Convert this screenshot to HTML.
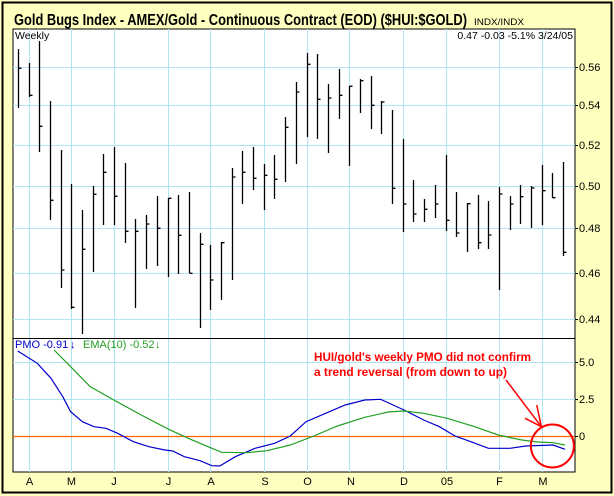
<!DOCTYPE html>
<html><head><meta charset="utf-8"><style>
html,body{margin:0;padding:0;background:#FFFFC0;}
svg{display:block;font-family:"Liberation Sans",Arial,sans-serif;}
</style></head><body>
<svg width="614" height="496" viewBox="0 0 614 496" xmlns="http://www.w3.org/2000/svg">
<rect x="0" y="0" width="614" height="496" fill="#FFFFC0"/>
<rect x="2.5" y="2.5" width="609" height="490" fill="none" stroke="#000" stroke-width="2"/>
<text x="14" y="25" font-size="16" font-weight="bold" textLength="453" lengthAdjust="spacingAndGlyphs">Gold Bugs Index - AMEX/Gold - Continuous Contract (EOD) ($HUI:$GOLD)</text>
<text x="474" y="25" font-size="9" textLength="50" lengthAdjust="spacingAndGlyphs">INDX/INDX</text>
<rect x="13" y="29" width="562" height="443" fill="#fff" stroke="#000" stroke-width="1"/>
<g stroke="#B0E4F2" stroke-width="1">
<line x1="29.5" y1="29" x2="29.5" y2="472"/><line x1="71.5" y1="29" x2="71.5" y2="472"/>
<line x1="114.5" y1="29" x2="114.5" y2="472"/><line x1="168.5" y1="29" x2="168.5" y2="472"/>
<line x1="210.5" y1="29" x2="210.5" y2="472"/><line x1="264.5" y1="29" x2="264.5" y2="472"/>
<line x1="307.5" y1="29" x2="307.5" y2="472"/><line x1="349.5" y1="29" x2="349.5" y2="472"/>
<line x1="403.5" y1="29" x2="403.5" y2="472"/><line x1="446.5" y1="29" x2="446.5" y2="472"/>
<line x1="499.5" y1="29" x2="499.5" y2="472"/><line x1="542.5" y1="29" x2="542.5" y2="472"/>
<line x1="13" y1="67.5" x2="575" y2="67.5"/><line x1="13" y1="105.5" x2="575" y2="105.5"/>
<line x1="13" y1="145.5" x2="575" y2="145.5"/><line x1="13" y1="186.5" x2="575" y2="186.5"/>
<line x1="13" y1="228.5" x2="575" y2="228.5"/><line x1="13" y1="273.5" x2="575" y2="273.5"/>
<line x1="13" y1="319.5" x2="575" y2="319.5"/>
<line x1="13" y1="362.5" x2="575" y2="362.5"/><line x1="13" y1="399.5" x2="575" y2="399.5"/>
</g>
<line x1="13" y1="338.5" x2="575" y2="338.5" stroke="#000" stroke-width="1"/>
<text x="15" y="39" font-size="10.5">Weekly</text>
<text x="573" y="39" font-size="10.5" text-anchor="end">0.47  -0.03  -5.1%  3/24/05</text>
<g font-size="11" fill="#000">
<text x="579" y="71">0.56</text><text x="579" y="109">0.54</text><text x="579" y="149">0.52</text>
<text x="579" y="190">0.50</text><text x="579" y="232">0.48</text><text x="579" y="277">0.46</text>
<text x="579" y="323">0.44</text>
<text x="579" y="366">5.0</text><text x="579" y="403">2.5</text><text x="579" y="440">0</text>
</g>
<g stroke="#000" stroke-width="1">
<line x1="575" y1="67.5" x2="578" y2="67.5"/><line x1="575" y1="105.5" x2="578" y2="105.5"/>
<line x1="575" y1="145.5" x2="578" y2="145.5"/><line x1="575" y1="186.5" x2="578" y2="186.5"/>
<line x1="575" y1="228.5" x2="578" y2="228.5"/><line x1="575" y1="273.5" x2="578" y2="273.5"/>
<line x1="575" y1="319.5" x2="578" y2="319.5"/><line x1="575" y1="362.5" x2="578" y2="362.5"/>
<line x1="575" y1="399.5" x2="578" y2="399.5"/><line x1="575" y1="436.5" x2="578" y2="436.5"/>
</g>
<g font-size="11" text-anchor="middle">
<text x="29.5" y="485">A</text><text x="71.5" y="485">M</text><text x="114" y="485">J</text>
<text x="168.5" y="485">J</text><text x="211" y="485">A</text><text x="265" y="485">S</text>
<text x="307.5" y="485">O</text><text x="351" y="485">N</text><text x="404" y="485">D</text>
<text x="447" y="485">05</text><text x="499.5" y="485">F</text><text x="543" y="485">M</text>
</g>
<g stroke="#000" stroke-width="1.3" fill="none">
<path d="M18.5 49V108M18.5 68.3h3
M29.5 63V97M29.5 95.3h3
M39.5 41V152M39.5 126.3h3
M50.5 101V220M50.5 200.3h3
M61.5 150V288M61.5 270h3
M71.5 184V309M71.5 307.3h3
M82.5 210V334M82.5 249.3h3
M93.5 186V272M93.5 194.3h3
M103.5 154V225M103.5 172.3h3
M114.5 147V225M114.5 196.3h3
M125.5 163V243M125.5 231.3h3
M135.5 219V308M135.5 231.3h3
M146.5 215V269M146.5 224h3
M157.5 196V266M157.5 228.3h3
M168.5 198V277M168.5 198.3h3
M178.5 195V274M178.5 235.3h3
M189.5 192V273M189.5 273.3h3
M200.5 233V328M200.5 244.3h3
M210.5 245V310M210.5 280h3
M221.5 242V300M221.5 242.7h3
M232.5 168V280M232.5 177h3
M242.5 151V204M242.5 172.3h3
M253.5 147V190M253.5 178.3h3
M264.5 164V210M264.5 175.3h3
M274.5 155V199M274.5 179.3h3
M285.5 117V182M285.5 127.3h3
M296.5 82V164M296.5 92h3
M307.5 53V137M307.5 64.3h3
M317.5 54V139M317.5 99.3h3
M328.5 84V153M328.5 98h3
M339.5 69V119M339.5 95.3h3
M349.5 86V166M349.5 86.3h3
M360.5 79V113M360.5 80.7h3
M371.5 76V129M371.5 105.3h3
M381.5 101V134M381.5 102h3
M392.5 110V204M392.5 188.3h3
M403.5 139V232M403.5 204h3
M413.5 180V222M413.5 214h3
M424.5 199V222M424.5 209.3h3
M435.5 185V218M435.5 204h3
M446.5 155V231M446.5 220.3h3
M456.5 192V237M456.5 233h3
M467.5 203V252M467.5 203.7h3
M478.5 195V249M478.5 242.7h3
M488.5 201V249M488.5 235h3
M499.5 187V290M499.5 194h3
M510.5 196V230M510.5 204h3
M520.5 185V224M520.5 196.7h3
M531.5 186V228M531.5 188h3
M542.5 165V225M542.5 190.7h3
M552.5 173V198M552.5 197.7h3
M563.5 162V256M563.5 252.3h3"/>
</g>
<line x1="13" y1="436.5" x2="575" y2="436.5" stroke="#FF6600" stroke-width="1.3"/>
<polyline fill="none" stroke="#0000CC" stroke-width="1.2" points="17.7,351 37.3,363.3 51,378.3 62.8,396.7 70.6,411.7 82.4,421.7 94,426.7 106,428.3 117.7,433.3 133.4,441.7 149,446.7 164.8,450 172.6,451 184.4,456.7 200,460.7 211.8,465.7 219.7,466 235.4,456.7 255,448.3 274.6,443.3 290.3,436 306,421.7 325.6,413.3 345.2,405 364.8,400 380.5,399.3 404,410 423.7,420 439.4,426.7 455,436 470.8,441.7 488.4,448.3 510,448.3 525.7,446 553.1,445 565,449.3"/>
<polyline fill="none" stroke="#22A022" stroke-width="1.2" points="54.1,350 70.6,366.7 90.2,386.7 113.8,400 141.2,415 168.7,429.3 188.3,438.3 208,446.7 221.7,452.3 247.2,452.7 266.8,450.7 290.3,445 313.8,436 337.4,426 364.8,417.3 388.4,412 404,411 423.7,413.3 447.2,418.3 474.7,426.7 498.2,435 521.8,440 537.5,442 553.1,442.7 565,445"/>
<text x="15" y="348" font-size="11" fill="#0000CC">PMO  -0.91</text>
<text x="70" y="348" font-size="11" fill="#0000CC">↓</text>
<text x="83" y="348" font-size="11" fill="#22A022">EMA(10)  -0.52</text>
<text x="155" y="348" font-size="11" fill="#22A022">↓</text>
<text x="314" y="361" font-size="12" font-weight="bold" fill="#FF0000" textLength="217" lengthAdjust="spacingAndGlyphs">HUI/gold's weekly PMO did not confirm</text>
<text x="314" y="376" font-size="12" font-weight="bold" fill="#FF0000" textLength="193" lengthAdjust="spacingAndGlyphs">a trend reversal (from down to up)</text>
<ellipse cx="552.4" cy="446" rx="21.5" ry="21.5" fill="none" stroke="#FF0000" stroke-width="2"/>
<g stroke="#FF0000" stroke-width="1.5">
<line x1="506" y1="380" x2="541.4" y2="426.7"/>
<line x1="525" y1="418.3" x2="541.4" y2="426.7"/>
<line x1="536.7" y1="405" x2="541.4" y2="426.7"/>
</g>
</svg>
</body></html>
